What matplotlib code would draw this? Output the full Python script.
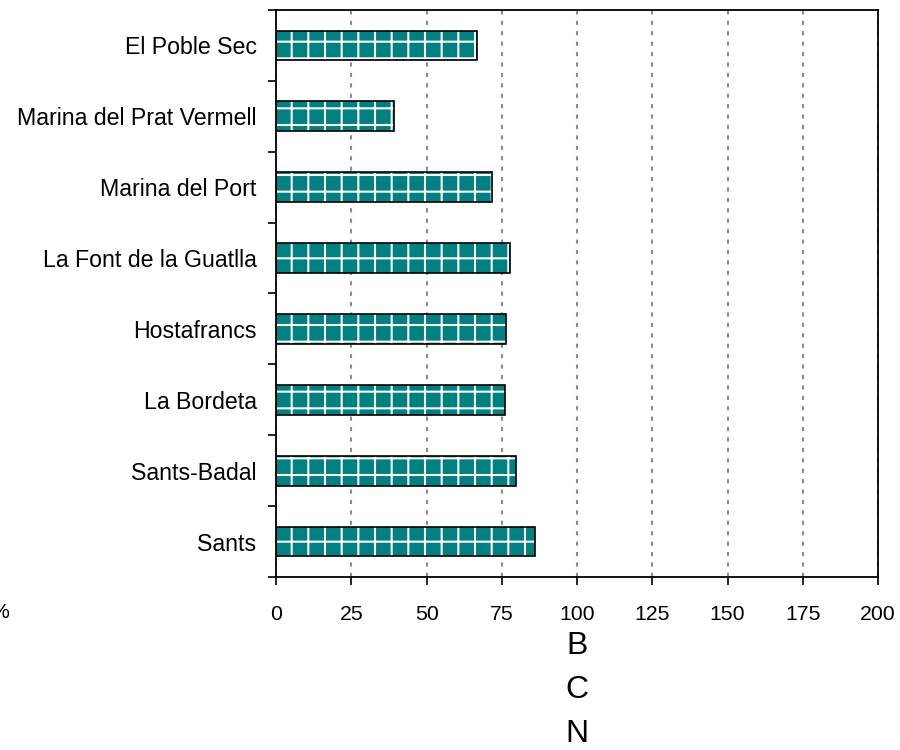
import numpy as np
import matplotlib.pyplot as plt

plt.rcParams['font.family'] = ['Liberation Sans', 'DejaVu Sans']
plt.rcParams['hatch.linewidth'] = 1.5

# barris (top to bottom as drawn)
barris = ['El Poble Sec', 'Marina del Prat Vermell', 'Marina del Port',
          'La Font de la Guatlla', 'Hostafrancs', 'La Bordeta',
          'Sants-Badal', 'Sants']
valors = [66.7, 39.3, 71.8, 77.7, 76.4, 76.0, 79.7, 86.1]
x_ticks = [0, 25, 50, 75, 100, 125, 150, 175, 200]

fig = plt.figure(figsize=(9, 7.5), dpi=100)
ax = fig.add_axes([0.3067, 0.2307, 0.669, 0.756])

y = np.arange(len(barris))
# fill + white grid hatch, then black outline on top
ax.barh(y, valors, height=0.42, color='#008080', edgecolor='white',
        linewidth=0, hatch='+', zorder=2)
ax.barh(y, valors, height=0.42, fill=False, edgecolor='black',
        linewidth=1.2, zorder=3)

ax.set_xlim(0, 200)
ax.set_ylim(len(barris) - 0.5, -0.5)

ax.set_xticks(x_ticks)
ax.set_xticklabels([str(t) for t in x_ticks])
ax.set_yticks(y)
ax.set_yticklabels(barris)
ax.set_yticks(np.arange(-0.5, len(barris)), minor=True)

ax.tick_params(axis='x', direction='out', length=6, width=1.2,
               labelsize=15.3, pad=14)
ax.tick_params(axis='y', which='major', length=0, labelsize=16.7, pad=14)
ax.tick_params(axis='y', which='minor', direction='out', length=6, width=1.2)

ax.xaxis.grid(True, color='#8c8c8c', linestyle=(0, (2, 3)), linewidth=1.5)
ax.set_axisbelow(True)

for sp in ax.spines.values():
    sp.set_linewidth(1.3)
    sp.set_color('black')

ax.set_xlabel('B\nC\nN', fontsize=23, linespacing=1.62, labelpad=5)

fig.text(-10 / 900, 1 - 613 / 750, '%', fontsize=15.3, ha='left', va='center')

fig.savefig('out.png', dpi=100)
